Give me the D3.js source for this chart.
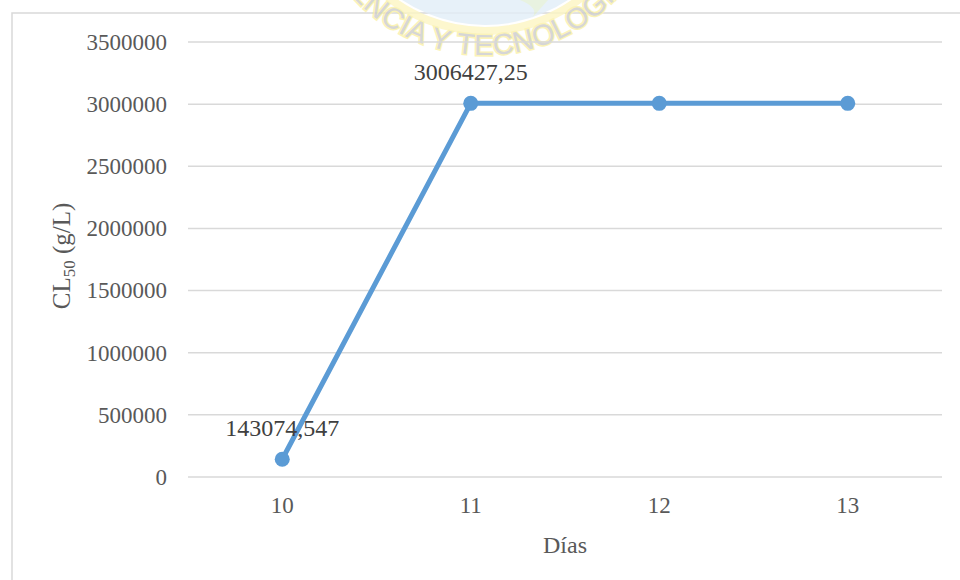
<!doctype html>
<meta charset="utf-8">
<head>
<script src="https://d3js.org/d3.v7.min.js"></script>
<style>
  body { margin: 0; background: #fff; }
  text { font-family: "Liberation Serif", "Times New Roman", serif; fill: #595959; }
</style>
</head>
<body>
<svg width="960" height="580"></svg>
<script>
    // chart data
    let days = ["10", "11", "12", "13"];
    let cl50 = [143074.547, 3006427.25, 3006427.25, 3006427.25];
    let pointLabels = ["143074,547", "3006427,25", "", ""];
    let yTicks = [0, 500000, 1000000, 1500000, 2000000, 2500000, 3000000, 3500000];

    let svg = d3.select("svg");
    let width = +svg.attr("width");
    let height = +svg.attr("height");

    let plot = { left: 188, right: 942, top: 42, bottom: 477 };

    // chart frame
    svg.append("rect")
        .attr("x", 12).attr("y", 13)
        .attr("width", width + 20).attr("height", height + 20)
        .attr("fill", "#fff")
        .attr("stroke", "#d9d9d9")
        .attr("stroke-width", 1.5);

    //
    // faded seal in the background (top centre)
    //
    let seal = svg.append("g").attr("opacity", 0.8);
    let cx = 485, cy = -125;
    seal.append("circle")
        .attr("cx", cx).attr("cy", cy).attr("r", 156)
        .attr("fill", "none")
        .attr("stroke", "#fdf6c3")
        .attr("stroke-width", 8);
    seal.append("circle")
        .attr("cx", cx).attr("cy", cy).attr("r", 150)
        .attr("fill", "#e2eef8");
    seal.append("path")
        .attr("d", "M520 0 Q540 8 532 18 L548 0 Z")
        .attr("fill", "#e3efd9");

    let r = 180;
    let a0 = 150 * Math.PI / 180, a1 = 8 * Math.PI / 180;
    seal.append("path")
        .attr("id", "sealArc")
        .attr("fill", "none")
        .attr("d", `M${cx + r * Math.cos(a0)} ${cy + r * Math.sin(a0)} A${r} ${r} 0 0 0 ${cx + r * Math.cos(a1)} ${cy + r * Math.sin(a1)}`);
    seal.append("text")
        .style("font-family", "'Liberation Sans', Arial, sans-serif")
        .style("fill", "#cdcdcd")
        .attr("stroke", "#fbf1a6")
        .attr("stroke-width", 3)
        .attr("paint-order", "stroke")
        .attr("font-size", 29)
        .attr("letter-spacing", 0.5)
        .append("textPath")
        .attr("href", "#sealArc")
        .attr("startOffset", 4)
        .text("CIENCIA Y TECNOLOGIA");

    //
    // scales
    //
    let x = d3.scaleBand()
        .domain(days)
        .range([plot.left, plot.right]);
    let xc = (d) => x(d) + x.bandwidth() / 2;

    let y = d3.scaleLinear()
        .domain([0, 3500000])
        .range([plot.bottom, plot.top]);

    // gridlines
    svg.append("g")
        .selectAll("line")
        .data(yTicks)
        .enter().append("line")
        .attr("x1", plot.left).attr("x2", plot.right)
        .attr("y1", (d) => y(d)).attr("y2", (d) => y(d))
        .attr("stroke", "#d9d9d9")
        .attr("stroke-width", 1.5);

    // y axis labels
    let yAxis = svg.append("g")
        .attr("transform", `translate(${plot.left - 21},0)`)
        .call(d3.axisLeft(y).tickValues(yTicks).tickSize(0).tickPadding(0).tickFormat(d3.format("d")));
    yAxis.select(".domain").remove();
    yAxis.selectAll("text")
        .attr("font-size", 23)
        .style("font-family", "'Liberation Serif', serif")
        .style("fill", "#595959");

    // x axis labels
    let xAxis = svg.append("g")
        .attr("transform", `translate(0,${plot.bottom + 20})`)
        .call(d3.axisBottom(x).tickSize(0).tickPadding(0));
    xAxis.select(".domain").remove();
    xAxis.selectAll("text")
        .attr("font-size", 23)
        .style("font-family", "'Liberation Serif', serif")
        .style("fill", "#595959");

    // axis titles
    svg.append("text")
        .attr("x", (plot.left + plot.right) / 2)
        .attr("y", 553)
        .attr("text-anchor", "middle")
        .attr("font-size", 24)
        .text("Días");

    let yTitle = svg.append("text")
        .attr("transform", "translate(70,256) rotate(-90)")
        .attr("text-anchor", "middle")
        .attr("font-size", 25);
    yTitle.append("tspan").text("CL");
    yTitle.append("tspan").attr("font-size", 17).attr("dy", 5).text("50");
    yTitle.append("tspan").attr("dy", -5).text(" (g/L)");

    //
    // series
    //
    let pts = days.map((d, i) => ({ day: d, v: cl50[i], label: pointLabels[i] }));

    svg.append("path")
        .datum(pts)
        .attr("fill", "none")
        .attr("stroke", "#5b9bd5")
        .attr("stroke-width", 5)
        .attr("stroke-linejoin", "round")
        .attr("d", d3.line().x((d) => xc(d.day)).y((d) => y(d.v)));

    svg.append("g")
        .selectAll("circle")
        .data(pts)
        .enter().append("circle")
        .attr("cx", (d) => xc(d.day))
        .attr("cy", (d) => y(d.v))
        .attr("r", 7.5)
        .attr("fill", "#5b9bd5");

    svg.append("g")
        .selectAll("text")
        .data(pts.filter((d) => d.label))
        .enter().append("text")
        .attr("x", (d) => xc(d.day))
        .attr("y", (d) => y(d.v) - 23)
        .attr("text-anchor", "middle")
        .attr("font-size", 24)
        .style("fill", "#404040")
        .text((d) => d.label);
</script>
</body>
